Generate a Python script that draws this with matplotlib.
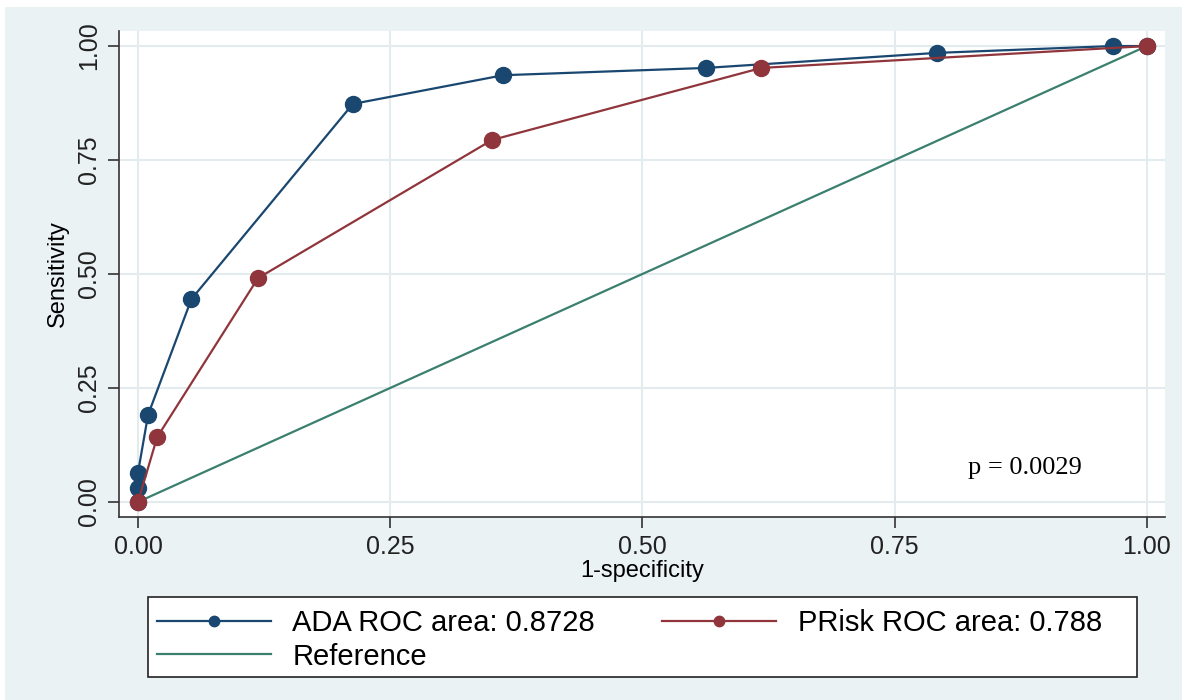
import matplotlib
matplotlib.use("Agg")
import matplotlib.pyplot as plt
from matplotlib.patches import Rectangle

# ROC points (1-specificity, sensitivity)
ada_fpr = [0.0, 0.0, 0.0, 0.010, 0.053, 0.213, 0.362, 0.563, 0.792, 0.966, 1.0]
ada_tpr = [0.0, 0.031, 0.064, 0.191, 0.445, 0.873, 0.936, 0.952, 0.985, 1.0, 1.0]
prisk_fpr = [0.0, 0.019, 0.119, 0.351, 0.618, 1.0]
prisk_tpr = [0.0, 0.142, 0.491, 0.794, 0.952, 1.0]
ref_xy = [0.0, 1.0]

labels = ["ADA ROC area: 0.8728", "PRisk ROC area: 0.788", "Reference"]
ticks = [0.0, 0.25, 0.5, 0.75, 1.0]
tick_labels = ["0.00", "0.25", "0.50", "0.75", "1.00"]
p_text = "p = 0.0029"

navy = "#1a476f"
maroon = "#90353b"
green = "#3b7f6e"
bg = "#eaf2f3"

plt.rcParams["font.family"] = ["Liberation Sans", "DejaVu Sans"]

W, H = 1182, 700
fig = plt.figure(figsize=(W / 100, H / 100), dpi=100, facecolor="white")
fig.patches.append(Rectangle((5 / W, 0), 1, 1 - 7 / H, transform=fig.transFigure,
                             facecolor=bg, edgecolor="none", zorder=-10))

ax = fig.add_axes([119 / W, 1 - 517 / H, (1165 - 119) / W, (517 - 31) / H])
ax.set_facecolor("white")

l_ref, = ax.plot(ref_xy, ref_xy, color=green, lw=1.6, zorder=2)
l_ada, = ax.plot(ada_fpr, ada_tpr, color=navy, lw=1.6, marker="o", ms=11.5, zorder=3)
l_pr, = ax.plot(prisk_fpr, prisk_tpr, color=maroon, lw=1.6, marker="o", ms=11.5, zorder=4)

ax.set_xlim(-0.0188, 1.018)
ax.set_ylim(-0.033, 1.033)
ax.set_xticks(ticks)
ax.set_xticklabels(tick_labels)
ax.set_yticks(ticks)
ax.set_yticklabels(tick_labels, rotation=90, va="center")
ax.grid(True, color="#e3ebee", lw=1.5, zorder=0)
ax.set_axisbelow(True)

for s in ["top", "right"]:
    ax.spines[s].set_visible(False)
for s in ["left", "bottom"]:
    ax.spines[s].set_color("#333333")
    ax.spines[s].set_linewidth(1.2)
ax.tick_params(direction="out", length=8, width=1.2, color="#333333",
               labelsize=18, labelcolor="#222222", pad=5)

ax.set_xlabel("1-specificity", fontsize=17, labelpad=1)
ax.set_ylabel("Sensitivity", fontsize=17, labelpad=6)

ax.text(0.823, 0.075, p_text, fontsize=19, family="Liberation Serif", va="center", ha="left")

# legend box drawn separately (stata leaves extra room on the right)
fig.patches.append(Rectangle((148 / W, 1 - 677 / H), (1137 - 148) / W, 80 / H,
                             transform=fig.transFigure, facecolor="white",
                             edgecolor="#222222", lw=1.2, zorder=1))
leg = fig.legend([l_ada, l_ref, l_pr], [labels[0], labels[2], labels[1]],
                 loc="upper left", bbox_to_anchor=(148 / W, 1 - 600 / H),
                 ncol=2, fontsize=21, handlelength=3.9, markerscale=0.65,
                 frameon=False, borderaxespad=0, labelspacing=0.2,
                 borderpad=0.3, handletextpad=0.75, columnspacing=2.3)
leg.set_zorder(2)

fig.savefig("out.png", dpi=100, facecolor=fig.get_facecolor())
